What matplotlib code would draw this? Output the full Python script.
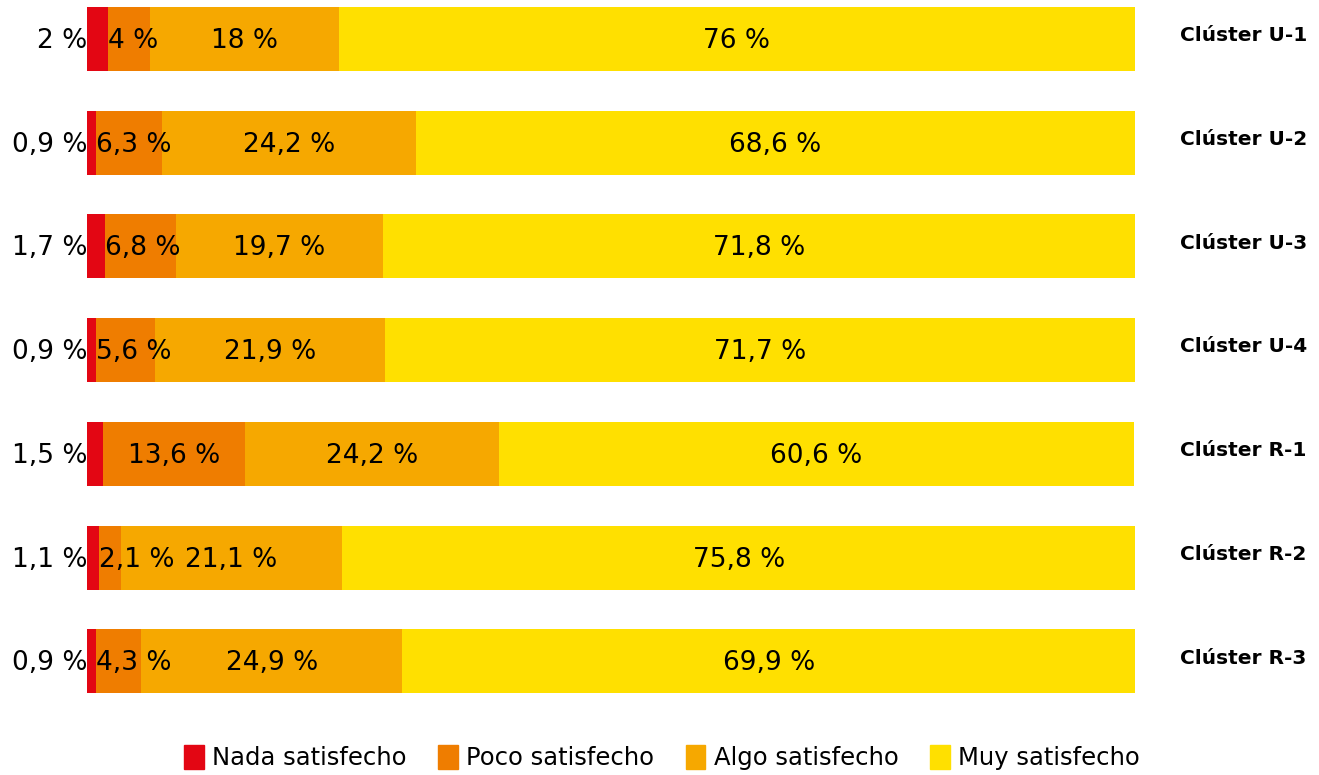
import matplotlib.pyplot as plt
from matplotlib.patches import Patch

clusters = ['Clúster U-1', 'Clúster U-2', 'Clúster U-3', 'Clúster U-4',
            'Clúster R-1', 'Clúster R-2', 'Clúster R-3']
nada = [2, 0.9, 1.7, 0.9, 1.5, 1.1, 0.9]
poco = [4, 6.3, 6.8, 5.6, 13.6, 2.1, 4.3]
algo = [18, 24.2, 19.7, 21.9, 24.2, 21.1, 24.9]
muy = [76, 68.6, 71.8, 71.7, 60.6, 75.8, 69.9]
series = ['Nada satisfecho', 'Poco satisfecho', 'Algo satisfecho', 'Muy satisfecho']
colores = ['#E30613', '#EF7D00', '#F6A800', '#FFE000']


def fmt(v):
    s = ('%g' % v).replace('.', ',')
    return s + ' %'


plt.rcParams['font.family'] = ['DejaVu Sans']
fig = plt.figure(figsize=(13.19, 7.75), dpi=100)
ax = fig.add_axes([87 / 1319, 1 - 700 / 775, (1135 - 87) / 1319, 700 / 775])

datos = [nada, poco, algo, muy]
ypos = list(range(len(clusters)))
left = [0] * len(clusters)
for k, vals in enumerate(datos):
    ax.barh(ypos, vals, left=left, height=0.617, color=colores[k], label=series[k])
    for i, v in enumerate(vals):
        txt = fmt(v)
        y = i + 0.02
        if k == 0:
            ax.text(0, y, txt, ha='right', va='center', fontsize=19)
        elif k == 1 and v < 8:
            ax.text(left[i], y, txt, ha='left', va='center', fontsize=19)
        else:
            ax.text(left[i] + v / 2, y, txt, ha='center', va='center', fontsize=19)
    left = [a + b for a, b in zip(left, vals)]

for i, c in enumerate(clusters):
    ax.text(104.3, i - 0.03, c, ha='left', va='center', fontsize=14.5, fontweight='bold')

ax.set_xlim(0, 100)
ax.set_ylim(6.374, -0.376)
ax.axis('off')

handles = [Patch(color=c) for c in colores]
fig.legend(handles, series, loc='lower center', bbox_to_anchor=(0.502, -0.022), ncol=4,
           frameon=False, fontsize=17.5, handlelength=0.8, handleheight=1.2,
           handletextpad=0.35, columnspacing=1.3)

fig.savefig('out.png', dpi=100)
